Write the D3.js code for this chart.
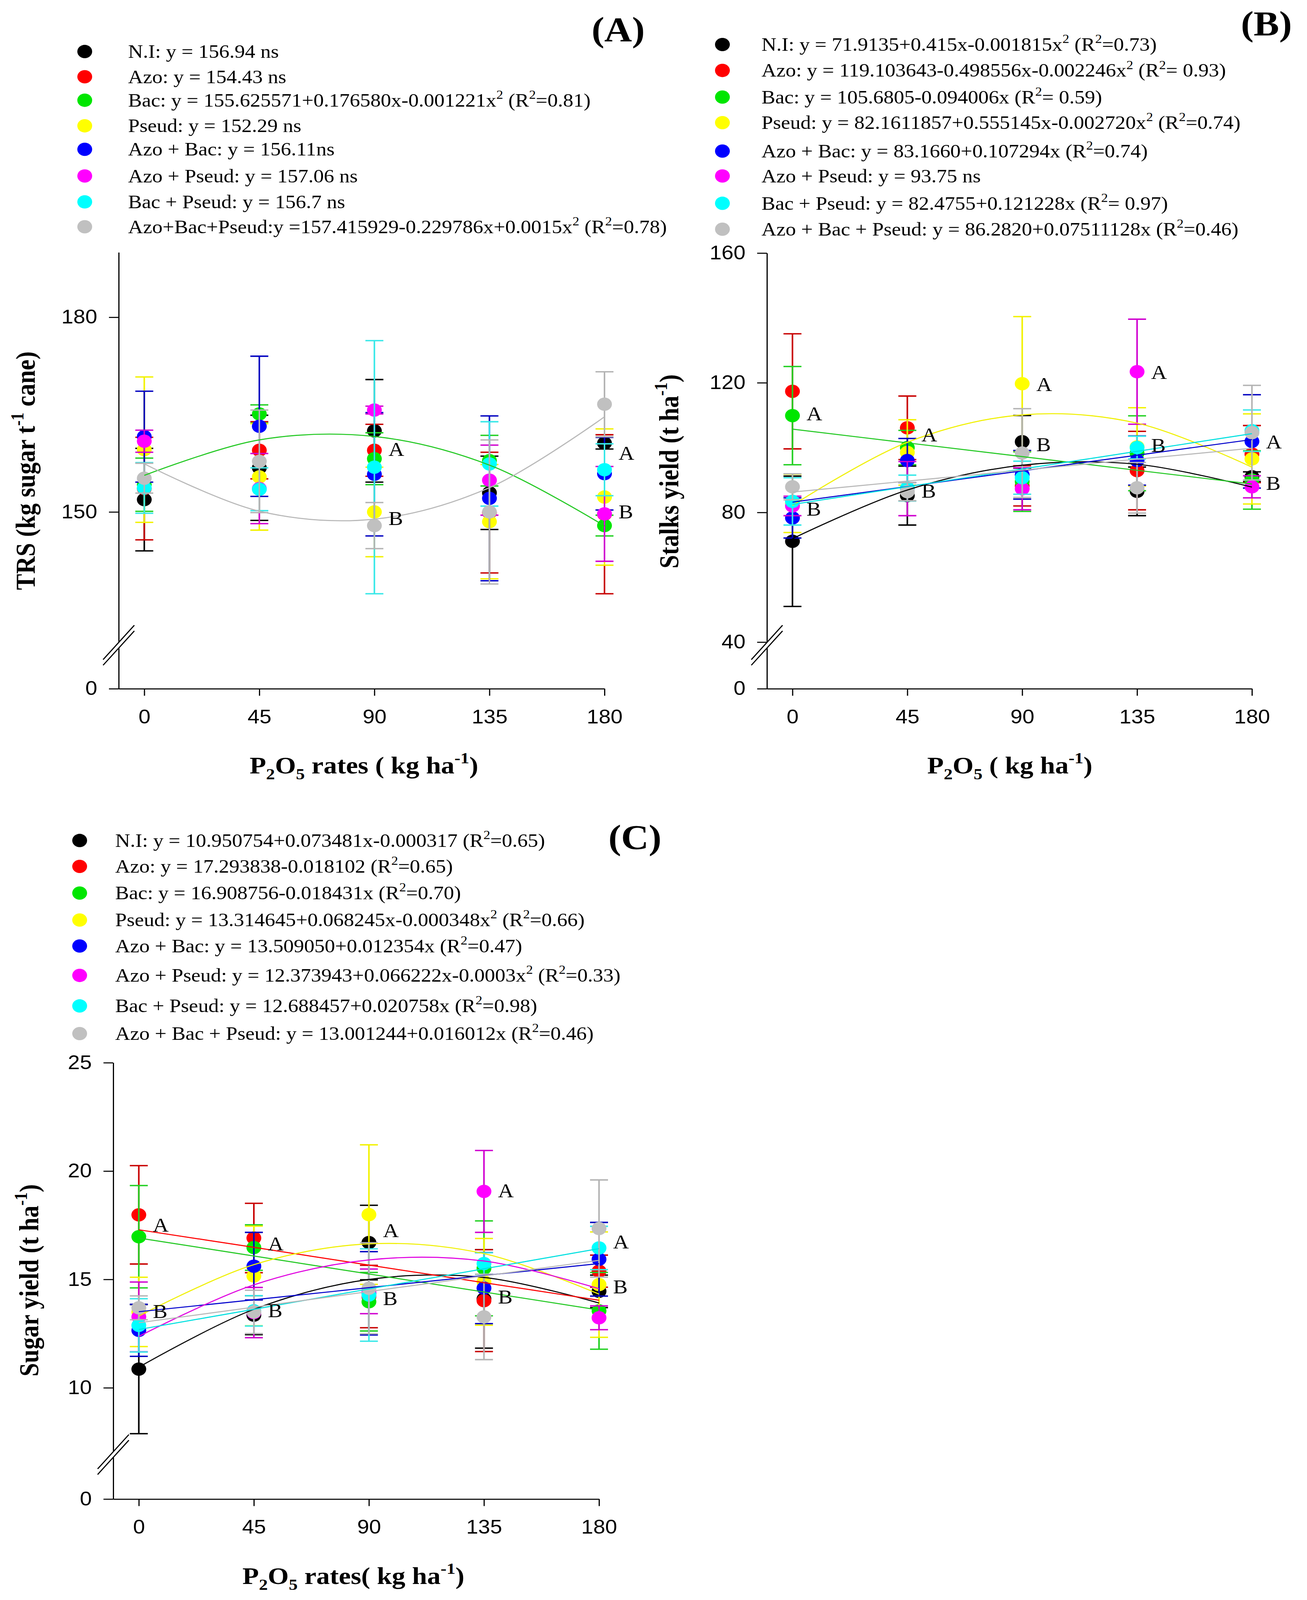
<!DOCTYPE html>
<html>
<head>
<meta charset="utf-8">
<script src="https://cdn.jsdelivr.net/npm/d3@7"></script>
<style>
  html, body { margin: 0; padding: 0; background: #fff; overflow: hidden; }
  svg { display: block; width: 100vw; height: 100vh; }
</style>
</head>
<body>
<svg id="chart" viewBox="0 0 3347 4565" preserveAspectRatio="none"></svg>
<script>
// P2O5 rates (kg ha-1) and treatments, same for all three panels
const rates = [0, 45, 90, 135, 180];
const treatments = ['N.I', 'Azo', 'Bac', 'Pseud', 'Azo + Bac', 'Azo + Pseud', 'Bac + Pseud', 'Azo + Bac + Pseud'];

// (A) TRS, kg sugar t-1 cane  (one row per treatment, one column per rate)
const trsMean = [
  [151.9, 156.8, 162.5, 152.95, 160.6],
  [153.6, 159.5, 159.5, 149.9, 149.65],
  [154.2, 165.1, 158.2, 157.9, 147.9],
  [159.6, 155.4, 150.0, 148.5, 152.3],
  [161.6, 163.2, 155.8, 152.1, 155.9],
  [160.9, 153.6, 165.7, 154.9, 149.7],
  [153.7, 153.5, 156.9, 157.4, 156.5],
  [155.2, 157.8, 147.9, 150.0, 166.6]
];
const trsErr = [
  [7.9, 8.1, 7.9, 5.65, 0.9],
  [7.9, 4.4, 4.0, 9.3, 12.25],
  [4.1, 1.4, 4.0, 3.9, 1.6],
  [11.2, 8.2, 6.9, 8.8, 10.5],
  [7.0, 10.8, 9.5, 12.7, 5.6],
  [1.7, 5.4, 0.6, 5.4, 7.3],
  [3.9, 3.3, 19.5, 6.5, 4.0],
  [2.3, 7.9, 3.55, 11.1, 5.0]
];
// fitted curve read at each rate, null = not significant (no line)
const trsFit = [
  null, null,
  [155.63, 161.10, 161.63, 157.22, 147.85],
  null, null, null, null,
  [157.42, 150.12, 148.89, 153.74, 164.66]
];
const trsLetters = [
  { rate: 90, value: 159.7, text: 'A' }, { rate: 90, value: 149.05, text: 'B' },
  { rate: 180, value: 159.1, text: 'A' }, { rate: 180, value: 150.1, text: 'B' }
];
const trsLegend = [
  'N.I: y = 156.94 ns',
  'Azo: y = 154.43 ns',
  'Bac: y = 155.625571+0.176580x-0.001221x² (R²=0.81)',
  'Pseud: y = 152.29 ns',
  'Azo + Bac: y = 156.11ns',
  'Azo + Pseud: y = 157.06 ns',
  'Bac + Pseud: y = 156.7 ns',
  'Azo+Bac+Pseud:y =157.415929-0.229786x+0.0015x² (R²=0.78)'
];
const trsTicks = [0, 150, 180];

// (B) Stalks yield, t ha-1
const stalkMean = [
  [71.1, 85.2, 101.8, 86.5, 91.0],
  [117.35, 106.1, 88.2, 92.9, 98.0],
  [109.85, 100.0, 89.5, 98.25, 90.0],
  [82.8, 98.5, 119.7, 100.2, 96.5],
  [78.3, 96.0, 91.6, 96.0, 101.9],
  [82.0, 87.35, 87.3, 123.4, 87.9],
  [83.4, 87.5, 90.7, 100.0, 105.2],
  [87.9, 86.4, 98.3, 87.6, 104.6]
];
const stalkErr = [
  [20.1, 9.1, 8.1, 7.5, 1.5],
  [17.75, 9.8, 6.2, 12.1, 8.8],
  [15.15, 5.3, 9.2, 11.55, 9.0],
  [9.0, 10.1, 20.7, 12.1, 13.9],
  [6.2, 6.8, 7.5, 7.6, 14.4],
  [3.0, 8.35, 6.5, 16.2, 3.4],
  [7.3, 4.0, 5.1, 3.5, 6.4],
  [4.0, 2.8, 13.7, 7.8, 14.6]
];
const stalkFit = [
  [71.91, 86.91, 94.56, 94.86, 87.80],
  null,
  [105.68, 101.45, 97.22, 92.99, 88.76],
  [82.16, 101.63, 110.09, 107.53, 93.96],
  [83.17, 87.99, 92.82, 97.65, 102.48],
  null,
  [82.48, 87.93, 93.39, 98.84, 104.30],
  [86.28, 89.66, 93.04, 96.42, 99.80]
];
const stalkLetters = [
  { rate: 0, value: 110.5, text: 'A' }, { rate: 0, value: 81.1, text: 'B' },
  { rate: 45, value: 104.0, text: 'A' }, { rate: 45, value: 86.7, text: 'B' },
  { rate: 90, value: 119.6, text: 'A' }, { rate: 90, value: 101.0, text: 'B' },
  { rate: 135, value: 123.3, text: 'A' }, { rate: 135, value: 100.8, text: 'B' },
  { rate: 180, value: 101.9, text: 'A' }, { rate: 180, value: 89.1, text: 'B' }
];
const stalkLegend = [
  'N.I: y = 71.9135+0.415x-0.001815x² (R²=0.73)',
  'Azo: y = 119.103643-0.498556x-0.002246x² (R²= 0.93)',
  'Bac: y = 105.6805-0.094006x (R²= 0.59)',
  'Pseud: y = 82.1611857+0.555145x-0.002720x² (R²=0.74)',
  'Azo + Bac: y = 83.1660+0.107294x (R²=0.74)',
  'Azo + Pseud: y = 93.75 ns',
  'Bac + Pseud: y = 82.4755+0.121228x (R²= 0.97)',
  'Azo + Bac + Pseud: y = 86.2820+0.07511128x (R²=0.46)'
];
const stalkTicks = [0, 40, 80, 120, 160];

// (C) Sugar yield, t ha-1
const sugarMean = [
  [10.86, 13.35, 16.70, 14.1, 14.45],
  [17.98, 16.91, 14.21, 14.02, 15.38],
  [16.97, 16.47, 13.97, 15.51, 13.55],
  [13.5, 15.16, 17.99, 14.89, 14.76],
  [12.65, 15.61, 14.36, 14.6, 15.93],
  [13.27, 13.47, 14.45, 19.06, 13.23],
  [12.88, 13.55, 14.28, 15.73, 16.45],
  [13.69, 13.5, 14.59, 13.27, 17.35]
];
const sugarErr = [
  [2.98, 0.9, 1.72, 2.27, 0.75],
  [2.27, 1.6, 1.44, 2.35, 0.74],
  [2.36, 1.05, 1.35, 2.19, 1.77],
  [1.6, 2.3, 3.22, 2.0, 2.43],
  [1.2, 1.56, 1.92, 1.64, 1.7],
  [1.61, 1.16, 1.03, 1.89, 0.55],
  [1.23, 0.7, 2.13, 0.5, 1.0],
  [0.55, 1.0, 2.1, 1.97, 2.24]
];
const sugarFit = [
  [10.95, 13.62, 15.00, 15.09, 13.91],
  [17.29, 16.48, 15.66, 14.85, 14.04],
  [16.91, 16.08, 15.25, 14.42, 13.59],
  [13.31, 15.68, 16.64, 16.19, 14.32],
  [13.51, 14.06, 14.62, 15.18, 15.73],
  [12.37, 14.75, 15.90, 15.85, 14.57],
  [12.69, 13.62, 14.56, 15.49, 16.42],
  [13.00, 13.72, 14.44, 15.16, 15.88]
];
const sugarLetters = [
  { rate: 0, value: 17.52, text: 'A' }, { rate: 0, value: 13.54, text: 'B' },
  { rate: 45, value: 16.65, text: 'A' }, { rate: 45, value: 13.57, text: 'B' },
  { rate: 90, value: 17.27, text: 'A' }, { rate: 90, value: 14.13, text: 'B' },
  { rate: 135, value: 19.11, text: 'A' }, { rate: 135, value: 14.21, text: 'B' },
  { rate: 180, value: 16.74, text: 'A' }, { rate: 180, value: 14.68, text: 'B' }
];
const sugarLegend = [
  'N.I: y = 10.950754+0.073481x-0.000317 (R²=0.65)',
  'Azo: y = 17.293838-0.018102 (R²=0.65)',
  'Bac: y = 16.908756-0.018431x (R²=0.70)',
  'Pseud: y = 13.314645+0.068245x-0.000348x² (R²=0.66)',
  'Azo + Bac: y = 13.509050+0.012354x (R²=0.47)',
  'Azo + Pseud: y = 12.373943+0.066222x-0.0003x² (R²=0.33)',
  'Bac + Pseud: y = 12.688457+0.020758x (R²=0.98)',
  'Azo + Bac + Pseud: y = 13.001244+0.016012x (R²=0.46)'
];
const sugarTicks = [0, 10, 15, 20, 25];

// styles
const markerColors = ['#000000', '#ff0000', '#00e600', '#ffff00', '#0000ff', '#ff00ff', '#00ffff', '#c0c0c0'];
const barColors = ['#000000', '#c80000', '#22d022', '#f2f200', '#0000c0', '#d000d0', '#38e8e8', '#b4b4b4'];
const lineColors = ['#000000', '#ff0000', '#22c822', '#f0f000', '#0000cc', '#e000e0', '#00e0e0', '#b8b8b8'];

const SERIF = "'Liberation Serif', 'Times New Roman', serif";
const SANS = "'Liberation Sans', Arial, sans-serif";
const LEGEND_FS = 53;
const TITLE_FS = 69;

const panels = [
  {
    mean: trsMean, err: trsErr, fit: trsFit, letters: trsLetters, legend: trsLegend, ticks: trsTicks,
    yDomain: [0, 130, 190], yRange: [1965, 1831, 720], xRange: [304, 1548], breakY: 1841,
    legendX: 217, legendTextX: 328, legendY: [147, 219, 286, 359, 426, 502, 576, 647],
    tag: '(A)', tagX: 1583, tagY: 117,
    xTitle: [['P', 0], ['2', -1], ['O', 0], ['5', -1], [' rates ( kg ha', 0], ['-1', 1], [')', 0]],
    xTitleX: 932, xTitleY: 2207,
    yTitle: [['TRS (kg sugar t', 0], ['-1', 1], [' cane)', 0]], yTitleX: 89, yTitleY: 1343
  },
  {
    mean: stalkMean, err: stalkErr, fit: stalkFit, letters: stalkLetters, legend: stalkLegend, ticks: stalkTicks,
    yDomain: [0, 40, 160], yRange: [1965, 1832, 722], xRange: [1964, 3206], breakY: 1841,
    legendX: 1850, legendTextX: 1950, legendY: [127, 201, 277, 350, 431, 502, 580, 654],
    tag: '(B)', tagX: 3243, tagY: 100,
    xTitle: [['P', 0], ['2', -1], ['O', 0], ['5', -1], [' ( kg ha', 0], ['-1', 1], [')', 0]],
    xTitleX: 2586, xTitleY: 2207,
    yTitle: [['Stalks yield (t ha', 0], ['-1', 1], [')', 0]], yTitleX: 1737, yTitleY: 1345
  },
  {
    mean: sugarMean, err: sugarErr, fit: sugarFit, letters: sugarLetters, legend: sugarLegend, ticks: sugarTicks,
    yDomain: [0, 7, 25], yRange: [4277, 4145, 3032], xRange: [290, 1534], breakY: 4150,
    legendX: 204, legendTextX: 295, legendY: [2398, 2472, 2548, 2625, 2699, 2783, 2870, 2949],
    tag: '(C)', tagX: 1626, tagY: 2422,
    xTitle: [['P', 0], ['2', -1], ['O', 0], ['5', -1], [' rates( kg ha', 0], ['-1', 1], [')', 0]],
    xTitleX: 905, xTitleY: 4519,
    yTitle: [['Sugar yield (t ha', 0], ['-1', 1], [')', 0]], yTitleX: 98, yTitleY: 3653
  }
];

const svg = d3.select('#chart');
svg.append('rect').attr('width', 3347).attr('height', 4565).attr('fill', '#fff');

// text with super/subscripts: parts = [[string, 0 normal | 1 sup | -1 sub]]
function rich(sel, parts, fs) {
  let shift = 0;
  parts.forEach(([s, k]) => {
    const target = k === 1 ? -0.42 * fs : k === -1 ? 0.24 * fs : 0;
    sel.append('tspan')
      .attr('dy', target - shift)
      .attr('font-size', k ? fs * 0.66 : fs)
      .text(s);
    shift = target;
  });
}

function legendParts(str) {
  const parts = [];
  str.split('²').forEach((piece, i, arr) => {
    parts.push([piece, 0]);
    if (i < arr.length - 1) parts.push(['2', 1]);
  });
  return parts;
}

function drawPanel(p) {
  const g = svg.append('g');
  const x = d3.scaleLinear().domain([-10, 180]).range(p.xRange);
  const y = d3.scaleLinear().domain(p.yDomain).range(p.yRange);
  const zeroY = p.yRange[0];
  const axisX = p.xRange[0];

  // axes
  const yAxis = g.append('g')
    .attr('transform', `translate(${axisX},0)`)
    .call(d3.axisLeft(y).tickValues(p.ticks).tickSize(25).tickPadding(30).tickSizeOuter(0).tickFormat(d3.format('d')));
  const xAxis = g.append('g')
    .attr('transform', `translate(0,${zeroY})`)
    .call(d3.axisBottom(x).tickValues(rates).tickSize(20).tickPadding(40).tickSizeOuter(0));
  [yAxis, xAxis].forEach(a => {
    a.select('.domain').attr('stroke', '#000').attr('stroke-width', 3);
    a.selectAll('.tick line').attr('stroke', '#000').attr('stroke-width', 3);
    a.selectAll('.tick text').attr('font-family', SANS).attr('font-size', 55).attr('fill', '#000');
  });

  // axis break
  const br = g.append('g').attr('transform', `translate(${axisX},${p.breakY})`);
  br.append('polygon').attr('points', '-40,41 40,-57 40,-41 -40,57').attr('fill', '#fff');
  br.append('line').attr('x1', -40).attr('y1', 41).attr('x2', 40).attr('y2', -57)
    .attr('stroke', '#000').attr('stroke-width', 3);
  br.append('line').attr('x1', -40).attr('y1', 57).attr('x2', 40).attr('y2', -41)
    .attr('stroke', '#000').attr('stroke-width', 3);

  // error bars + markers, series by series
  treatments.forEach((name, i) => {
    const s = g.append('g');
    rates.forEach((r, j) => {
      const m = p.mean[i][j], e = p.err[i][j];
      const cx = x(r), y0 = y(m - e), y1 = y(m + e);
      s.append('line').attr('x1', cx).attr('x2', cx).attr('y1', y0).attr('y2', y1)
        .attr('stroke', barColors[i]).attr('stroke-width', 4);
      [y0, y1].forEach(yy => {
        s.append('line').attr('x1', cx - 23).attr('x2', cx + 23).attr('y1', yy).attr('y2', yy)
          .attr('stroke', barColors[i]).attr('stroke-width', 4);
      });
      s.append('circle').attr('cx', cx).attr('cy', y(m)).attr('r', 19).attr('fill', markerColors[i]);
    });
  });

  // fitted curves
  const line = d3.line().x((d, j) => x(rates[j])).y(d => y(d)).curve(d3.curveCatmullRom);
  p.fit.forEach((f, i) => {
    if (!f) return;
    g.append('path').attr('d', line(f)).attr('fill', 'none')
      .attr('stroke', lineColors[i]).attr('stroke-width', 3);
  });

  // significance letters
  g.selectAll('.letter').data(p.letters).enter().append('text')
    .attr('x', d => x(d.rate) + 36).attr('y', d => y(d.value)).attr('dy', '0.35em')
    .attr('font-family', SERIF).attr('font-size', 56).attr('fill', '#000')
    .text(d => d.text);

  // legend
  treatments.forEach((name, i) => {
    g.append('circle').attr('cx', p.legendX).attr('cy', p.legendY[i]).attr('r', 19).attr('fill', markerColors[i]);
    const t = g.append('text').attr('x', p.legendTextX).attr('y', p.legendY[i] + 18)
      .attr('font-family', SERIF).attr('font-size', LEGEND_FS).attr('fill', '#000');
    rich(t, legendParts(p.legend[i]), LEGEND_FS);
  });

  // panel tag
  g.append('text').attr('x', p.tagX).attr('y', p.tagY).attr('text-anchor', 'middle')
    .attr('font-family', SERIF).attr('font-weight', 'bold').attr('font-size', 98).text(p.tag);

  // axis titles
  const xt = g.append('text').attr('x', p.xTitleX).attr('y', p.xTitleY).attr('text-anchor', 'middle')
    .attr('font-family', SERIF).attr('font-weight', 'bold').attr('font-size', TITLE_FS);
  rich(xt, p.xTitle, TITLE_FS);
  const yt = g.append('text')
    .attr('transform', `translate(${p.yTitleX},${p.yTitleY}) rotate(-90)`)
    .attr('text-anchor', 'middle')
    .attr('font-family', SERIF).attr('font-weight', 'bold').attr('font-size', TITLE_FS);
  rich(yt, p.yTitle, TITLE_FS);
}

panels.forEach(drawPanel);
</script>
</body>
</html>
